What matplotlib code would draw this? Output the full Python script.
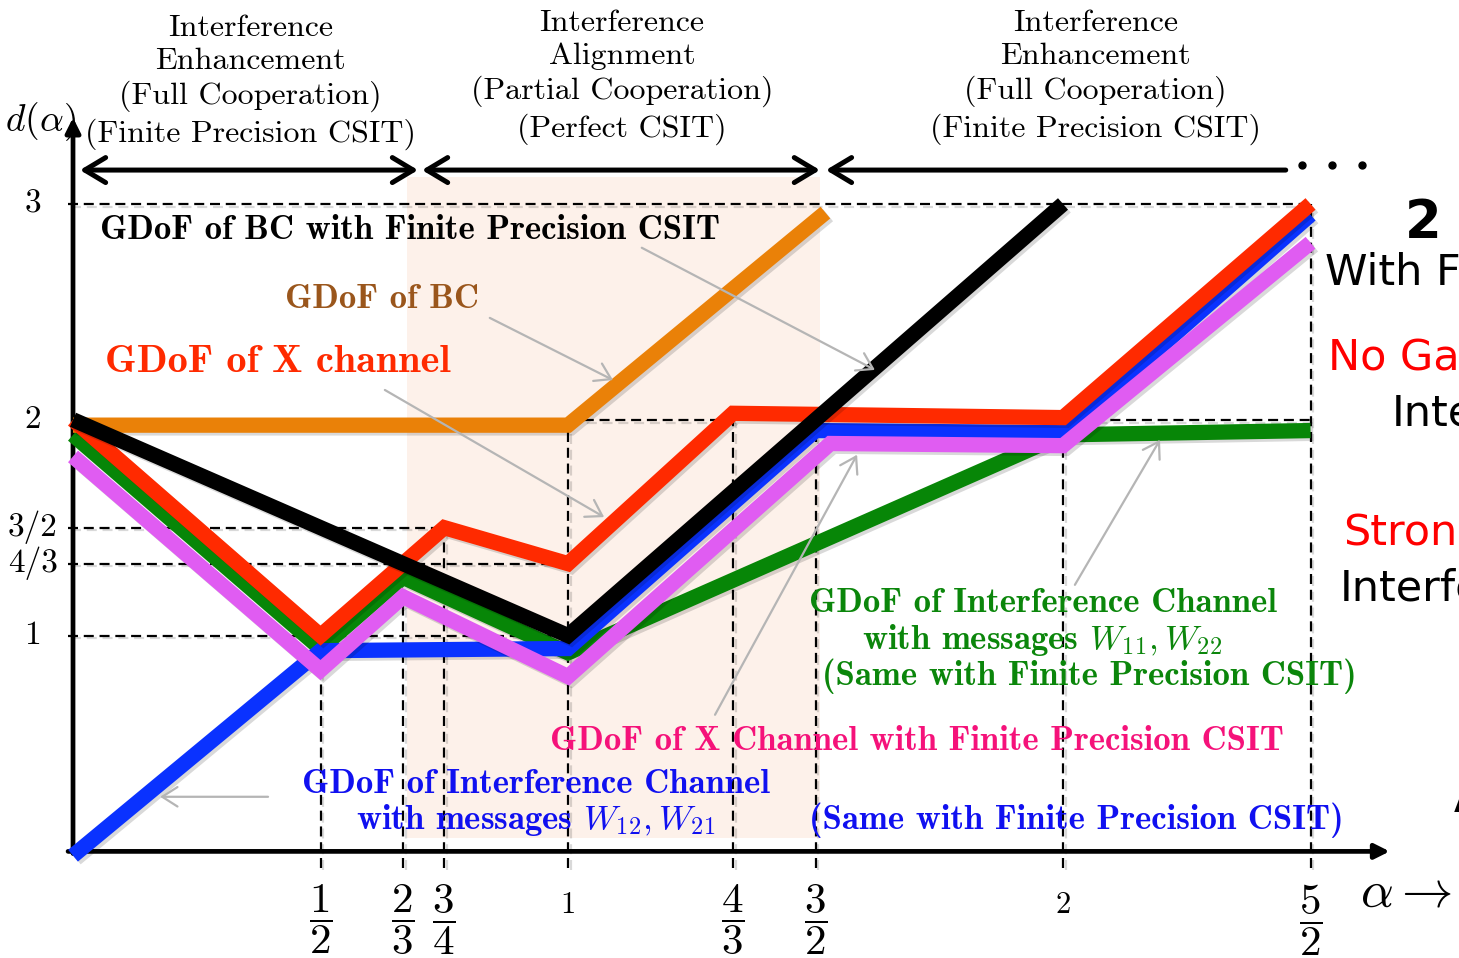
import numpy as np
import matplotlib
matplotlib.use("Agg")
from matplotlib import pyplot as plt
from matplotlib import patheffects as pe

plt.rcParams['mathtext.fontset'] = 'cm'
plt.rcParams['axes.unicode_minus'] = False

# GDoF curves d(alpha) for each setting
alpha_bc = [0, 1, 1.52]
d_bc = [1.975, 1.975, 2.96]

alpha_fp = [0, 1, 2]
d_fp = [2, 1, 3]

alpha_x = [0, 1/2, 3/4, 1, 4/3, 2, 2.5]
d_x = [2, 1, 3/2, 4/3, 2.03, 2.01, 3]

alpha_ic11 = [0, 1/2, 2/3, 1, 2, 2.5]
d_ic11 = [1.93, 0.94, 1.27, 0.92, 1.93, 1.95]

alpha_ic12 = [0, 1/2, 1, 3/2, 2, 2.5]
d_ic12 = [-0.02, 0.93, 0.94, 1.95, 1.94, 2.95]

alpha_xfp = [0, 1/2, 2/3, 1, 1.53, 2, 2.5]
d_xfp = [1.83, 0.84, 1.18, 0.81, 1.89, 1.88, 2.82]

# axis marks
xtick_vals = [1/2, 2/3, 3/4, 1, 4/3, 3/2, 2, 5/2]
xtick_labels = [r'$\dfrac{1}{2}$', r'$\dfrac{2}{3}$', r'$\dfrac{3}{4}$', '1',
                r'$\dfrac{4}{3}$', r'$\dfrac{3}{2}$', '2', r'$\dfrac{5}{2}$']
xguide_top = [1, 4/3, 3/2, 2, 2, 2, 2, 3]
ytick_vals = [1, 4/3, 3/2, 2, 3]
ytick_labels = ['1', '4/3', '3/2', '2', '3']
yguide_end = [1, 1, 3/4, None, 5/2]

regimes = ["Interference\nEnhancement\n(Full Cooperation)\n(Finite Precision CSIT)",
           "Interference\nAlignment\n(Partial Cooperation)\n(Perfect CSIT)",
           "Interference\nEnhancement\n(Full Cooperation)\n(Finite Precision CSIT)"]

fig = plt.figure(figsize=(14.59, 9.58), dpi=100)
ax = fig.add_axes([0, 0, 1, 1])
ax.set_xlim(-0.1475, 2.8)
ax.set_ylim(-0.494, 3.945)
ax.axis('off')

shadow = [pe.SimpleLineShadow(offset=(2, -2), alpha=0.15), pe.Normal()]

# shaded alignment regime
ax.fill_between([0.675, 1.51], 0.062, 3.125, color='#fdf1ea', zorder=0, lw=0)

# dashed guide lines
dash = dict(color='k', lw=1.6, dashes=(4.5, 2.6), zorder=1, path_effects=shadow)
for xv, top in zip(xtick_vals, xguide_top):
    ax.plot([xv, xv], [-0.075, top], **dash)
for yv, end in zip(ytick_vals, yguide_end):
    if end is not None:
        ax.plot([-0.01, end], [yv, yv], **dash)
ax.plot([1, 4/3], [2, 2], **dash)
ax.plot([2, 2.5], [2.0, 2.0], **dash)

# axes with arrows
ax.annotate('', xy=(0, 3.40), xytext=(0, -0.01),
            arrowprops=dict(arrowstyle='-|>', lw=3.4, color='k', mutation_scale=22,
                            shrinkA=0, shrinkB=0), zorder=3)
ax.annotate('', xy=(2.66, 0), xytext=(-0.01, 0),
            arrowprops=dict(arrowstyle='-|>', lw=3.4, color='k', mutation_scale=22,
                            shrinkA=0, shrinkB=0), zorder=3)

# GDoF curves
lw = 11
kw = dict(lw=lw, solid_capstyle='butt', solid_joinstyle='miter', path_effects=shadow)
ax.plot(alpha_ic11, d_ic11, color='#078607', zorder=4, **kw)
ax.plot(alpha_ic12, d_ic12, color='#0a32ff', zorder=5, **kw)
ax.plot(alpha_xfp, d_xfp, color='#e05cf2', zorder=6, **kw)
ax.plot(alpha_bc, d_bc, color='#ea8108', zorder=7, **kw)
ax.plot(alpha_x, d_x, color='#ff2a00', zorder=8, **kw)
ax.plot(alpha_fp, d_fp, color='k', zorder=9, **kw)

# tick labels
for xv, lab in zip(xtick_vals, xtick_labels):
    if 'frac' in lab:
        ax.text(xv, -0.145, lab, ha='center', va='top', fontsize=31)
    else:
        ax.text(xv, -0.25, lab, ha='center', va='center', fontsize=22, family='cmr10')
for yv, lab in zip(ytick_vals, ytick_labels):
    ax.text(-0.081, yv, lab, ha='center', va='center', fontsize=24, family='cmr10')
ax.text(-0.066, 3.38, r'$d(\alpha)$', ha='center', va='center', fontsize=27)
ax.text(2.6, -0.19, r'$\alpha \rightarrow$', ha='left', va='center', fontsize=37)

# regime headers and double arrows
reg_x = [0.358, 1.109, 2.065]
reg_y = [3.565, 3.588, 3.588]
for xv, yv, s in zip(reg_x, reg_y, regimes):
    ax.text(xv, yv, s, ha='center', va='center', fontsize=23, family='cmr10',
            linespacing=1.26)
arr = dict(lw=3.6, color='k', mutation_scale=20, shrinkA=0, shrinkB=0)
ax.annotate('', xy=(0.697, 3.157), xytext=(0.014, 3.157),
            arrowprops=dict(arrowstyle='<->,head_length=0.75,head_width=0.45', **arr))
ax.annotate('', xy=(1.509, 3.157), xytext=(0.705, 3.157),
            arrowprops=dict(arrowstyle='<->,head_length=0.75,head_width=0.45', **arr))
ax.annotate('', xy=(1.521, 3.157), xytext=(2.45, 3.157),
            arrowprops=dict(arrowstyle='->,head_length=0.75,head_width=0.45', **arr))
ax.plot([2.483, 2.543, 2.604], [3.181] * 3, 'o', color='k', ms=5)

# curve labels
bold = dict(family='cmb10', fontsize=25)
ax.text(0.055, 2.879, 'GDoF of BC with Finite Precision CSIT', ha='left', va='center',
        color='k', zorder=10, **bold)
ax.text(0.428, 2.555, 'GDoF of BC', ha='left', va='center', color='#9a561c', **bold)
ax.text(0.065, 2.263, 'GDoF of X channel', ha='left', va='center', color='#ff2a00',
        family='cmb10', fontsize=29)
green = '#0b860b'
ax.text(1.96, 1.147, 'GDoF of Interference Channel', ha='center', va='center',
        color=green, zorder=10, **bold)
ax.text(1.958, 0.98, r'with messages $W_{11}, W_{22}$', ha='center', va='center',
        color=green, zorder=10, **bold)
ax.text(2.053, 0.813, '(Same with Finite Precision CSIT)', ha='center', va='center',
        color=green, zorder=10, **bold)
ax.text(1.705, 0.507, 'GDoF of X Channel with Finite Precision CSIT', ha='center',
        va='center', color='#f5127a', zorder=10, **bold)
blue = '#1010f0'
ax.text(0.935, 0.312, 'GDoF of Interference Channel', ha='center', va='center',
        color=blue, zorder=10, **bold)
ax.text(0.935, 0.146, r'with messages $W_{12}, W_{21}$', ha='center', va='center',
        color=blue, zorder=10, **bold)
ax.text(2.026, 0.146, '(Same with Finite Precision CSIT)', ha='center', va='center',
        color=blue, zorder=10, **bold)

# pointers from labels to curves
ptr = dict(arrowstyle='->,head_length=0.55,head_width=0.35', lw=1.6, color='#b5b5b5',
           mutation_scale=20, shrinkA=0, shrinkB=0)
pointers = [((1.149, 2.797), (1.620, 2.231)),
            ((0.842, 2.472), (1.091, 2.184)),
            ((0.630, 2.138), (1.073, 1.549)),
            ((1.297, 0.633), (1.584, 1.838)),
            ((2.024, 1.235), (2.196, 1.907)),
            ((0.394, 0.253), (0.176, 0.253))]
for start, head in pointers:
    ax.annotate('', xy=head, xytext=start, arrowprops=ptr, zorder=11)

# side notes running past the right edge
side = dict(family='DejaVu Sans', ha='left', va='center', fontsize=31)
ax.text(2.691, 2.91, '2', fontweight='bold', family='DejaVu Sans', ha='left',
        va='center', fontsize=38)
ax.text(2.529, 2.681, 'With Finite Precision', color='k', **side)
ax.text(2.535, 2.287, 'No Gain from', color='#ff0000', **side)
ax.text(2.665, 2.027, 'Interference', color='k', **side)
ax.text(2.566, 1.476, 'Strong', color='#ff0000', **side)
ax.text(2.560, 1.220, 'Interference', color='k', **side)
ax.text(2.79, 0.238, 'A', fontweight='bold', **side)

fig.savefig('out.png', dpi=100)
